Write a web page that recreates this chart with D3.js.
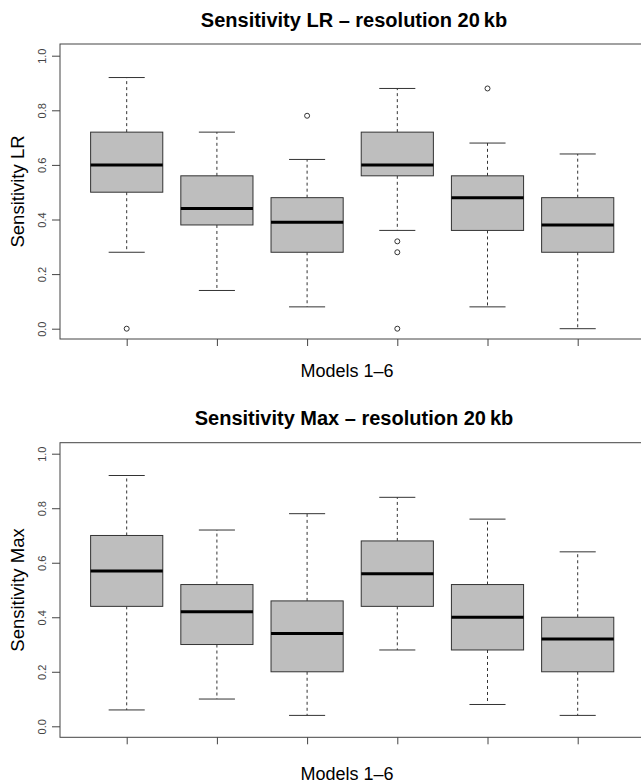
<!DOCTYPE html>
<html>
<head>
<meta charset="utf-8">
<script src="https://cdnjs.cloudflare.com/ajax/libs/d3/7.8.5/d3.min.js"></script>
<style>
  body { margin: 0; background: #fff; }
  svg { display: block; font-family: "Liberation Sans", Arial, Helvetica, sans-serif; }
</style>
</head>
<body>
<svg id="chart" width="641" height="783"></svg>
<script>
const models = [1, 2, 3, 4, 5, 6];

// Sensitivity LR: whisker low, Q1, median, Q3, whisker high, outliers
const lrLow = [0.28, 0.14, 0.08, 0.36, 0.08, 0.00],
    lrQ1 = [0.50, 0.38, 0.28, 0.56, 0.36, 0.28],
    lrMed = [0.60, 0.44, 0.39, 0.60, 0.48, 0.38],
    lrQ3 = [0.72, 0.56, 0.48, 0.72, 0.56, 0.48],
    lrHigh = [0.92, 0.72, 0.62, 0.88, 0.68, 0.64],
    lrOut = [[0.00], [], [0.78], [0.32, 0.28, 0.00], [0.88], []];

// Sensitivity Max
const maxLow = [0.06, 0.10, 0.04, 0.28, 0.08, 0.04],
    maxQ1 = [0.44, 0.30, 0.20, 0.44, 0.28, 0.20],
    maxMed = [0.57, 0.42, 0.34, 0.56, 0.40, 0.32],
    maxQ3 = [0.70, 0.52, 0.46, 0.68, 0.52, 0.40],
    maxHigh = [0.92, 0.72, 0.78, 0.84, 0.76, 0.64],
    maxOut = [[], [], [], [], [], []];

const yTicks = [0, 0.2, 0.4, 0.6, 0.8, 1.0];

const svg = d3.select("#chart");

function panel(opts) {
    const g = svg.append("g");
    const left = 60, right = 642;
    const x = d3.scaleLinear().domain([1, 6]).range([126.7, 577.7]);
    const y = d3.scaleLinear().domain([0, 1]).range([opts.y0, opts.y1]);
    const step = x(2) - x(1),
        boxW = step * 0.8,
        capW = boxW / 2;

    const rows = models.map((m, i) => ({
        m, low: opts.low[i], q1: opts.q1[i], med: opts.med[i],
        q3: opts.q3[i], high: opts.high[i], out: opts.out[i]
    }));

    // title
    g.append("text")
        .attr("x", 354).attr("y", opts.titleY)
        .attr("text-anchor", "middle")
        .attr("font-size", 20).attr("font-weight", "bold")
        .attr("fill", "#000")
        .text(opts.title);

    // x label
    g.append("text")
        .attr("x", 347).attr("y", opts.xlabY)
        .attr("text-anchor", "middle")
        .attr("font-size", 18).attr("fill", "#000")
        .text("Models 1\u20136");

    // y label
    g.append("text")
        .attr("transform", `translate(24,${(opts.top + opts.bottom) / 2}) rotate(-90)`)
        .attr("text-anchor", "middle")
        .attr("font-size", 18.5).attr("fill", "#000")
        .text(opts.ylab);

    // axes
    const yAx = g.append("g")
        .attr("transform", `translate(${left},0)`)
        .call(d3.axisLeft(y).tickValues(yTicks).tickFormat(d3.format(".1f")).tickSize(8).tickPadding(0));
    yAx.select(".domain").remove();
    yAx.selectAll("line").attr("stroke", "#444");
    yAx.selectAll("text")
        .attr("transform", "rotate(-90)")
        .attr("x", 0).attr("y", -14).attr("dy", 0)
        .attr("text-anchor", "middle")
        .attr("font-size", 11).attr("fill", "#444")
        .attr("font-family", "Liberation Sans, Arial, sans-serif");

    const xAx = g.append("g")
        .attr("transform", `translate(0,${opts.bottom})`)
        .call(d3.axisBottom(x).tickValues(models).tickFormat("").tickSize(7));
    xAx.select(".domain").remove();
    xAx.selectAll("line").attr("stroke", "#444");

    // frame
    g.append("rect")
        .attr("x", left).attr("y", opts.top)
        .attr("width", right - left).attr("height", opts.bottom - opts.top)
        .attr("fill", "none").attr("stroke", "#444").attr("stroke-width", 1);

    const b = g.selectAll("g.box").data(rows).enter().append("g").attr("class", "box");

    // whiskers
    b.append("line")
        .attr("x1", d => x(d.m)).attr("x2", d => x(d.m))
        .attr("y1", d => y(d.q3)).attr("y2", d => y(d.high))
        .attr("stroke", "#333").attr("stroke-dasharray", "3,3");
    b.append("line")
        .attr("x1", d => x(d.m)).attr("x2", d => x(d.m))
        .attr("y1", d => y(d.q1)).attr("y2", d => y(d.low))
        .attr("stroke", "#333").attr("stroke-dasharray", "3,3");
    b.append("line")
        .attr("x1", d => x(d.m) - capW / 2).attr("x2", d => x(d.m) + capW / 2)
        .attr("y1", d => y(d.high)).attr("y2", d => y(d.high))
        .attr("stroke", "#333");
    b.append("line")
        .attr("x1", d => x(d.m) - capW / 2).attr("x2", d => x(d.m) + capW / 2)
        .attr("y1", d => y(d.low)).attr("y2", d => y(d.low))
        .attr("stroke", "#333");

    // box
    b.append("rect")
        .attr("x", d => x(d.m) - boxW / 2)
        .attr("y", d => y(d.q3))
        .attr("width", boxW)
        .attr("height", d => y(d.q1) - y(d.q3))
        .attr("fill", "#bebebe").attr("stroke", "#333").attr("stroke-width", 1);

    // median
    b.append("line")
        .attr("x1", d => x(d.m) - boxW / 2).attr("x2", d => x(d.m) + boxW / 2)
        .attr("y1", d => y(d.med)).attr("y2", d => y(d.med))
        .attr("stroke", "#000").attr("stroke-width", 3);

    // outliers
    b.selectAll("circle")
        .data(d => d.out.map(v => ({ m: d.m, v })))
        .enter().append("circle")
        .attr("cx", d => x(d.m)).attr("cy", d => y(d.v))
        .attr("r", 2.5)
        .attr("fill", "none").attr("stroke", "#333").attr("stroke-width", 1);
}

panel({
    title: "Sensitivity LR \u2013 resolution 20\u2009kb", ylab: "Sensitivity LR",
    low: lrLow, q1: lrQ1, med: lrMed, q3: lrQ3, high: lrHigh, out: lrOut,
    top: 44, bottom: 339, y0: 328.7, y1: 55.7, titleY: 27, xlabY: 377
});

panel({
    title: "Sensitivity Max \u2013 resolution 20\u2009kb", ylab: "Sensitivity Max",
    low: maxLow, q1: maxQ1, med: maxMed, q3: maxQ3, high: maxHigh, out: maxOut,
    top: 442.7, bottom: 737.3, y0: 726.3, y1: 453.7, titleY: 425, xlabY: 780
});
</script>
</body>
</html>
